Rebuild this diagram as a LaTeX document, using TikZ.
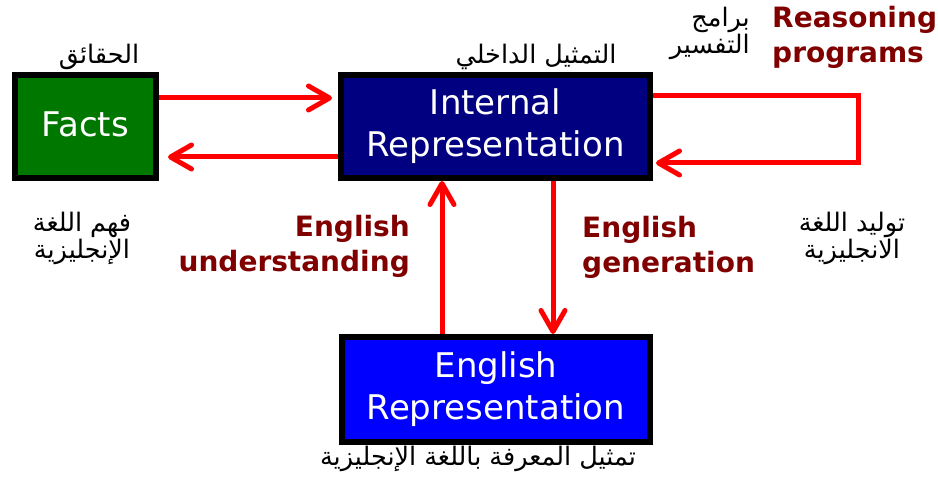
\documentclass[tikz,border=0pt]{standalone}
\usepackage{fontspec}
\setmainfont{DejaVu Sans}
\newfontfamily\arabicfont[Script=Arabic]{DejaVu Sans}
\TeXXeTstate=1
\usetikzlibrary{arrows.meta}
\definecolor{dred}{RGB}{128,0,0}
\definecolor{fgreen}{RGB}{0,120,0}
\definecolor{inavy}{RGB}{0,0,128}
\definecolor{eblue}{RGB}{0,0,255}
\begin{document}
\begin{tikzpicture}[x=1pt,y=-1pt,
  box/.style={draw=black,line width=6pt,inner sep=0pt,text=white,align=center,
    font=\fontsize{34}{42}\selectfont},
  arr/.style={draw=red,line width=5pt,line join=miter,
    -{Straight Barb[length=21pt,width=24pt,line cap=round,line join=round]}},
  lbl/.style={text=dred,inner sep=0pt,font=\fontsize{28}{35}\bfseries\selectfont},
  ar/.style={inner sep=0pt,font=\arabicfont\fontsize{25.5}{27}\selectfont}]
\useasboundingbox[fill=white] (0,0) rectangle (938,478);

% boxes
\node[box,fill=fgreen,minimum width=141pt,minimum height=103pt] (facts) at (85.5,126.5) {\raisebox{5pt}{Facts}};
\node[box,fill=inavy,minimum width=309pt,minimum height=103pt] (int) at (495.5,126.5) {Internal\\Representation};
\node[box,fill=eblue,minimum width=308pt,minimum height=105pt] (eng) at (496,389.5) {English\\Representation};

% connectors
\coordinate (c1) at (858,96);
\coordinate (c2) at (858,163);
\draw[arr,shorten >=6pt] (facts.east |- 0,98) -- (int.west |- 0,98);
\draw[arr,shorten >=9pt] (int.west |- 0,157) -- (facts.east |- 0,157);
\draw[arr,shorten >=3pt] (int.east |- c1) -- (c1) -- (c2) -- (int.east |- c2);
\draw[arr] (eng.north -| 442,0) -- (int.south -| 442,0);
\draw[arr] (int.south -| 553,0) -- (eng.north -| 553,0);

% english labels (base = last line)
\node[lbl,anchor=base west,align=left] (reas) at (772,63) {Reasoning\\programs};
\node[lbl,anchor=base east,align=right] (und) at (410,272) {English\\understanding};
\node[lbl,anchor=base west,align=left] (gen) at (582,273) {English\\generation};

% arabic labels
\node[ar,anchor=base] (a1) at (99,64) {\beginR الحقائق\endR};
\node[ar,anchor=base] (a2) at (536,64) {\beginR التمثيل الداخلي\endR};
\node[ar,anchor=base east,align=right] (a3) at (750,54) {\beginR برامج\endR\\\beginR التفسير\endR};
\node[ar,anchor=base,align=center] (a4) at (82,259) {\beginR فهم اللغة\endR\\\beginR الإنجليزية\endR};
\node[ar,anchor=base,align=center] (a5) at (852,259) {\beginR توليد اللغة\endR\\\beginR الانجليزية\endR};
\node[ar,anchor=base] (a6) at (478,465) {\beginR تمثيل المعرفة باللغة الإنجليزية\endR};
\end{tikzpicture}
\end{document}
